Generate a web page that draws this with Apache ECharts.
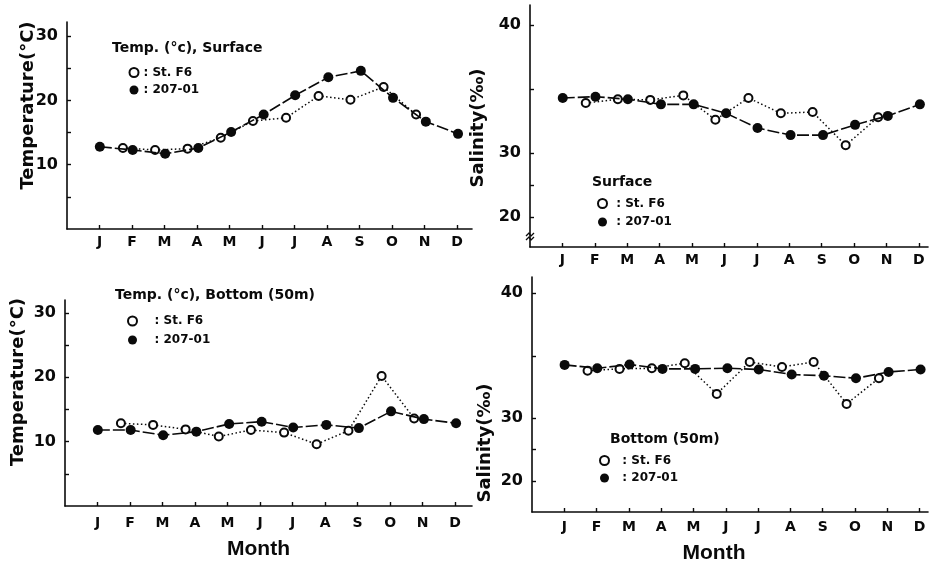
<!DOCTYPE html>
<html><head><meta charset="utf-8">
<script src="https://cdn.jsdelivr.net/npm/echarts@6/dist/echarts.min.js"></script>
<style>html,body{margin:0;padding:0;background:#fff}#c{width:930px;height:564px}</style>
</head><body><div id="c"></div>
<script>
// ---------- data ----------
const monthLabels = ['J','F','M','A','M','J','J','A','S','O','N','D'];
const monthTicks = [1,2,3,4,5,6,7,8,9,10,11,12];
// sampling time (month number, fractional) for each station
const f6Times   = [1.72, 2.71, 3.71, 4.73, 5.72, 6.74, 7.74, 8.72, 9.74, 10.74];
const s207Times = [1.01, 2.02, 3.02, 4.04, 5.05, 6.05, 7.02, 8.04, 9.04, 10.03, 11.04, 12.03];
// temperature (°C)
const tempSurfF6  = [12.6, 12.3, 12.5, 14.2, 16.8, 17.3, 20.7, 20.1, 22.1, 17.8];
const tempSurf207 = [12.8, 12.3, 11.7, 12.6, 15.1, 17.8, 20.8, 23.6, 24.6, 20.4, 16.7, 14.8];
const tempBotF6   = [12.85, 12.6, 11.9, 10.8, 11.8, 11.4, 9.6, 11.7, 20.2, 13.6];
const tempBot207  = [11.8, 11.8, 11.0, 11.55, 12.75, 13.1, 12.2, 12.6, 12.1, 14.7, 13.5, 12.85];
// salinity (‰)
const salSurfF6  = [33.9, 34.2, 34.15, 34.5, 32.6, 34.3, 33.1, 33.2, 30.6, 32.8];
const salSurf207 = [34.3, 34.4, 34.2, 33.8, 33.8, 33.1, 31.95, 31.4, 31.4, 32.2, 32.9, 33.8];
const salBotF6   = [33.8, 33.95, 34.0, 34.4, 31.95, 34.5, 34.1, 34.5, 31.15, 33.2];
const salBot207  = [34.27, 34.0, 34.3, 33.95, 33.95, 34.0, 33.9, 33.5, 33.4, 33.2, 33.7, 33.9];
// axis ticks
const tempTicks = [5, 10, 15, 20, 25, 30];
const tempLabels = [10, 20, 30];
const salTicks = [20, 25, 30, 35, 40];
const salLabels = [20, 30, 40];

// ---------- helpers ----------
// salinity axis is drawn compressed (half scale) below 30
const salToAxis = v => v >= 30 ? v : 30 - (30 - v) / 2;
const salFromAxis = t => t >= 30 ? t : 30 - (30 - t) * 2;
const pairs = (xs, ys, f) => xs.map((x, i) => [x, f ? f(ys[i]) : ys[i]]);

const INK = '#0a0a0a';
const DJ = 'DejaVu Sans';

function xAxis(gi, max, margin, name, nameGap, namePad) {
  const a = {
    type: 'value', gridIndex: gi, min: 0, max: max,
    axisLine: {lineStyle: {color: INK, width: 1.6}},
    axisTick: {customValues: monthTicks, inside: true, length: 4, lineStyle: {color: INK, width: 1.4}},
    axisLabel: {customValues: monthTicks, margin: margin, color: INK, fontFamily: DJ, fontWeight: 'bold', fontSize: 14,
      formatter: v => monthLabels[Math.round(v) - 1] || ''},
    splitLine: {show: false}
  };
  if (name) {
    a.name = name; a.nameLocation = 'middle'; a.nameGap = nameGap; a.nameMoveOverlap = false;
    a.nameTextStyle = {color: INK, fontFamily: 'Liberation Sans', fontWeight: 'bold', fontSize: 21, lineHeight: 21, padding: namePad};
  }
  return a;
}
function yAxis(gi, min, max, ticks, labels, fmt, name, nameGap, namePad) {
  return {
    type: 'value', gridIndex: gi, min: min, max: max,
    axisLine: {lineStyle: {color: INK, width: 1.6}},
    axisTick: {customValues: ticks, inside: true, length: 4, lineStyle: {color: INK, width: 1.4}},
    axisLabel: {customValues: labels, margin: 9, color: INK, fontFamily: DJ, fontWeight: 'bold', fontSize: 16, formatter: fmt},
    splitLine: {show: false},
    name: name, nameLocation: 'middle', nameRotate: 90, nameGap: nameGap, nameMoveOverlap: false,
    nameTextStyle: {color: INK, fontFamily: DJ, fontWeight: 'bold', fontSize: 18, lineHeight: 20, padding: namePad}
  };
}
function seriesPair(gi, f6, s207, f) {
  return [
    {type: 'line', name: 'St. F6', xAxisIndex: gi, yAxisIndex: gi, data: pairs(f6Times, f6, f),
     symbol: 'emptyCircle', symbolSize: 8, showAllSymbol: true, animation: false,
     itemStyle: {color: INK, borderColor: INK, borderWidth: 1.6},
     lineStyle: {color: INK, width: 1.5, type: [1.5, 2.5]}, z: 2},
    {type: 'line', name: '207-01', xAxisIndex: gi, yAxisIndex: gi, data: pairs(s207Times, s207, f),
     symbol: 'circle', symbolSize: 10, showAllSymbol: true, animation: false,
     itemStyle: {color: INK},
     lineStyle: {color: INK, width: 1.6, type: [12, 3]}, z: 3}
  ];
}
function legend(left, top, gap, prefix) {
  return {
    left: left, top: top, orient: 'vertical', padding: 0, itemWidth: 9, itemHeight: 9, itemGap: gap,
    selectedMode: false,
    data: [{name: 'St. F6', icon: 'emptyCircle'},
           {name: '207-01', icon: 'circle'}],
    formatter: n => prefix + n,
    textStyle: {color: INK, fontFamily: DJ, fontWeight: 'bold', fontSize: 12, lineHeight: 14}
  };
}
function title(text, left, top) {
  return {text: text, left: left, top: top, padding: 0,
    textStyle: {color: INK, fontFamily: DJ, fontWeight: 'bold', fontSize: 14, lineHeight: 16}};
}
const tempFmt = v => String(Math.round(v));
const salFmt = v => String(Math.round(salFromAxis(v)));

const chart = echarts.init(document.getElementById('c'), null, {renderer: 'canvas'});
chart.setOption({
  backgroundColor: '#fff',
  animation: false,
  grid: [
    {left: 67, top: 22, width: 405, height: 207, outerBoundsMode: 'none'},
    {left: 530, top: 5, width: 398, height: 242, outerBoundsMode: 'none'},
    {left: 65, top: 300, width: 407, height: 206, outerBoundsMode: 'none'},
    {left: 532, top: 277, width: 396, height: 235, outerBoundsMode: 'none'}
  ],
  xAxis: [
    xAxis(0, 12.46, 6),
    xAxis(1, 12.28, 6),
    xAxis(2, 12.52, 10, 'Month', 32.5, [0, 20, 0, 0]),
    xAxis(3, 12.26, 8, 'Month', 30.5, [0, 32, 0, 0])
  ],
  yAxis: [
    yAxis(0, 0, 32.2, tempTicks, tempLabels, tempFmt, 'Temperature(°C)', 29, [0, 0, 0, 40]),
    yAxis(1, 22.66, 41.56, salTicks.map(salToAxis), salLabels.map(salToAxis), salFmt, 'Salinity(‰)', 42, [0, 4, 0, 0]),
    yAxis(2, 0, 32, tempTicks, tempLabels, tempFmt, 'Temperature(°C)', 37, [0, 0, 0, 42]),
    yAxis(3, 22.5, 41.3, salTicks.map(salToAxis), salLabels.map(salToAxis), salFmt, 'Salinity(‰)', 37, [0, 97, 0, 0])
  ],
  title: [
    title('Temp. (°c), Surface', 112, 40),
    title('Surface', 592, 174),
    title('Temp. (°c), Bottom (50m)', 115, 287),
    title('Bottom (50m)', 610, 431)
  ],
  legend: [
    legend(128.5, 65.5, 3.5, ': '),
    legend(597, 196.5, 4.5, ' : '),
    legend(127, 314, 5, '   : '),
    legend(599, 453.5, 3.5, '  : ')
  ],
  // axis-break mark on the surface salinity axis
  graphic: [
    {type: 'polyline', shape: {points: [[526, 236], [529, 233], [531, 236], [534, 233]]},
     style: {stroke: INK, lineWidth: 1.3, fill: null}, z: 10},
    {type: 'polyline', shape: {points: [[526, 240], [529, 237], [531, 240], [534, 237]]},
     style: {stroke: INK, lineWidth: 1.3, fill: null}, z: 10}
  ],
  series: [].concat(
    seriesPair(0, tempSurfF6, tempSurf207),
    seriesPair(1, salSurfF6, salSurf207, salToAxis),
    seriesPair(2, tempBotF6, tempBot207),
    seriesPair(3, salBotF6, salBot207, salToAxis)
  )
});
</script></body></html>
